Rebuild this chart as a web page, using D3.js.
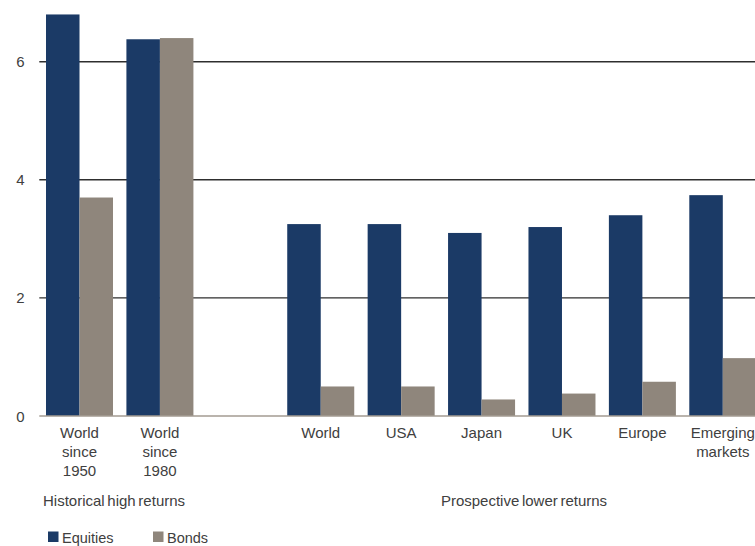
<!DOCTYPE html>
<html>
<head>
<meta charset="utf-8">
<script src="https://cdn.jsdelivr.net/npm/d3@7"></script>
<style>
  html, body { margin: 0; padding: 0; background: #fff; overflow: hidden; }
  svg { display: block; }
  text { font-family: "Liberation Sans", Arial, Helvetica, sans-serif; fill: #404040; }
</style>
</head>
<body>
<svg id="chart" width="755" height="546"></svg>
<script>
// ---- Data ----
const categories = [
  ["World", "since", "1950"],
  ["World", "since", "1980"],
  [],
  ["World"],
  ["USA"],
  ["Japan"],
  ["UK"],
  ["Europe"],
  ["Emerging", "markets"]
];
const equities = [6.8, 6.38, null, 3.25, 3.25, 3.1, 3.2, 3.4, 3.74];
const bonds    = [3.7, 6.4,  null, 0.5,  0.5,  0.28, 0.38, 0.58, 0.98];
const seriesNames = ["Equities", "Bonds"];
const seriesColors = ["#1b3a66", "#8f867c"];
const yTicks = [0, 2, 4, 6];
const groupLabels = [
  { text: "Historical high returns", x: 43, anchor: "start" },
  { text: "Prospective lower returns", x: 524, anchor: "middle" }
];

// ---- Layout ----
const svg = d3.select("#chart");
const x0 = 39.3, x1 = 763, yZero = 416, yTop = 2.65;

const x = d3.scaleBand()
  .domain(d3.range(categories.length))
  .range([x0, x1])
  .paddingInner(0.1667)
  .paddingOuter(0.0833);

const xs = d3.scaleBand()
  .domain(seriesNames)
  .range([0, x.bandwidth()])
  .padding(0);

const y = d3.scaleLinear().domain([0, 7]).range([yZero, yTop]);

const color = d3.scaleOrdinal().domain(seriesNames).range(seriesColors);

// gridlines
svg.append("g").selectAll("line")
  .data(yTicks.filter(d => d > 0))
  .join("line")
  .attr("x1", x0).attr("x2", 755)
  .attr("y1", d => y(d)).attr("y2", d => y(d))
  .attr("stroke", "#2e2e2e").attr("stroke-width", 1.4);

// bars
const rows = categories.map((c, i) => ({ i, values: [equities[i], bonds[i]] }));
const groups = svg.append("g").selectAll("g")
  .data(rows)
  .join("g")
  .attr("transform", d => `translate(${x(d.i)},0)`);

groups.selectAll("rect")
  .data(d => seriesNames.map((s, k) => ({ s, v: d.values[k] })).filter(e => e.v != null))
  .join("rect")
  .attr("x", d => xs(d.s))
  .attr("width", xs.bandwidth())
  .attr("y", d => y(d.v))
  .attr("height", d => y(0) - y(d.v))
  .attr("fill", d => color(d.s));

// baseline
svg.append("line")
  .attr("x1", x0).attr("x2", 755)
  .attr("y1", y(0)).attr("y2", y(0))
  .attr("stroke", "#a39b92").attr("stroke-width", 1.5);

// y tick labels
svg.append("g").selectAll("text")
  .data(yTicks)
  .join("text")
  .attr("x", 20.5)
  .attr("y", d => y(d) + 5.5)
  .attr("text-anchor", "middle")
  .attr("font-size", 15)
  .text(d => d);

// x labels
const xl = svg.append("g").selectAll("text")
  .data(categories.map((c, i) => ({ c, i })))
  .join("text")
  .attr("x", d => x(d.i) + x.bandwidth() / 2)
  .attr("y", 438)
  .attr("text-anchor", "middle")
  .attr("font-size", 15);
xl.selectAll("tspan")
  .data(d => d.c.map((t, k) => ({ t, k, cx: x(d.i) + x.bandwidth() / 2 })))
  .join("tspan")
  .attr("x", d => d.cx)
  .attr("dy", d => d.k === 0 ? 0 : 18.8)
  .text(d => d.t);

// group labels
svg.append("g").selectAll("text")
  .data(groupLabels)
  .join("text")
  .attr("x", d => d.x)
  .attr("y", 506)
  .attr("text-anchor", d => d.anchor)
  .attr("font-size", 15)
  .attr("word-spacing", -1.5)
  .text(d => d.text);

// legend
const legendX = [48, 153];
const lg = svg.append("g").selectAll("g")
  .data(seriesNames)
  .join("g")
  .attr("transform", (d, i) => `translate(${legendX[i]},531.5)`);
lg.append("rect").attr("width", 10.5).attr("height", 10.5).attr("fill", d => color(d));
lg.append("text").attr("x", 14).attr("y", 11).attr("font-size", 14.5).text(d => d);
</script>
</body>
</html>
